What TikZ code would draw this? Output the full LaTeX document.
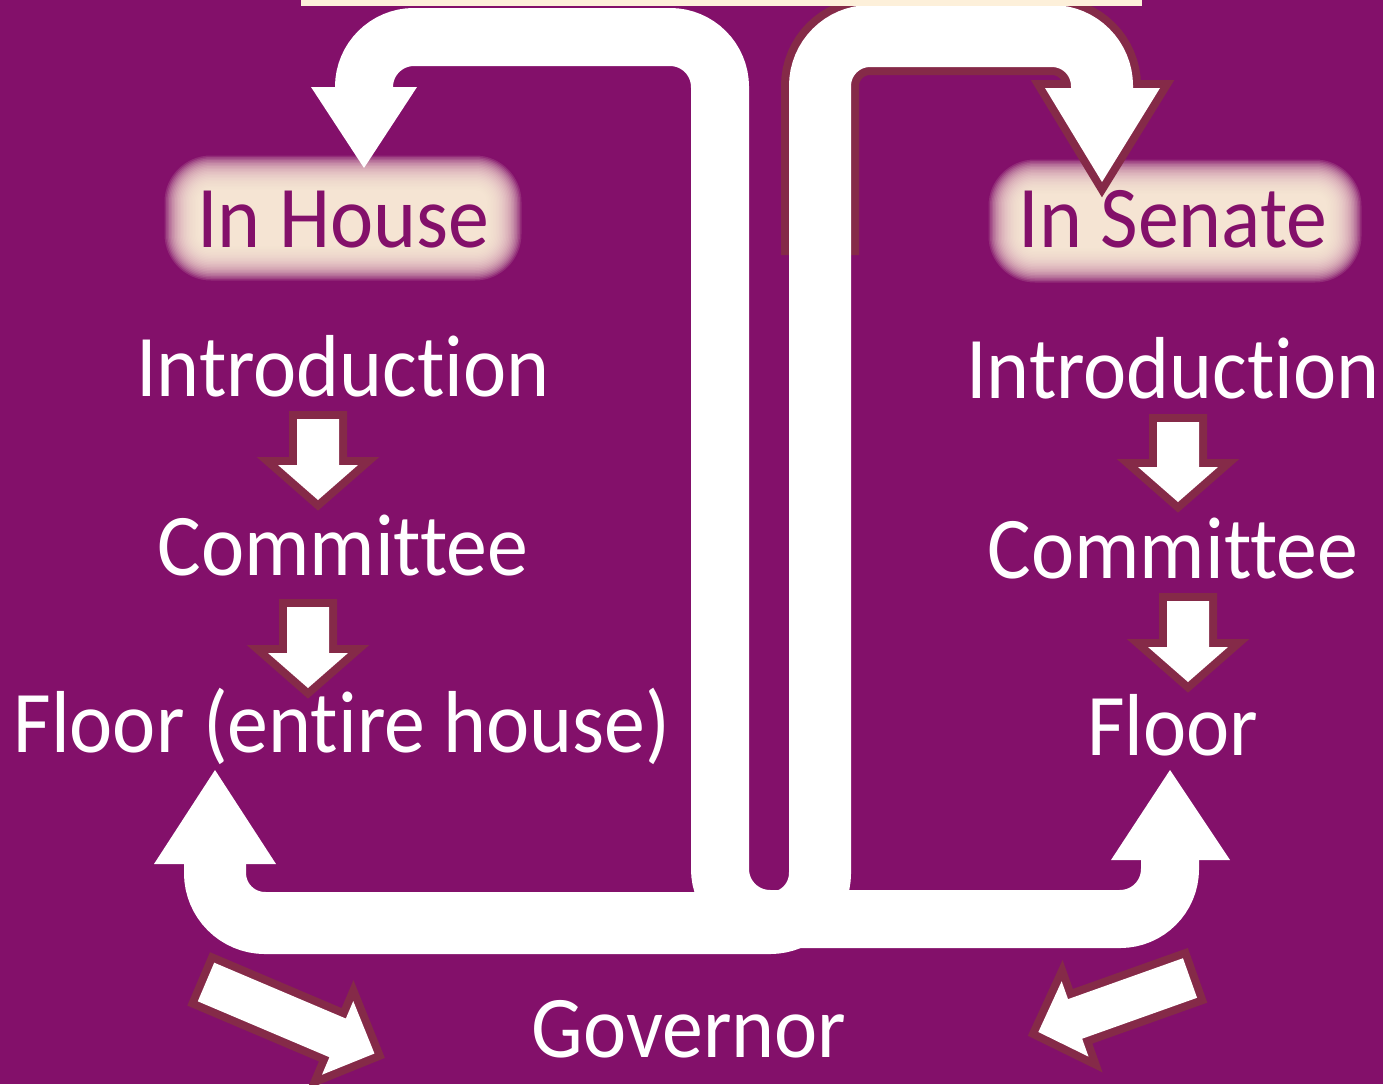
\documentclass[tikz,border=0pt]{standalone}
\usepackage{fontspec}
\setmainfont[FakeStretch=0.93, Ligatures=NoCommon]{Carlito}
\definecolor{billbg}{RGB}{131,16,106}
\definecolor{billrim}{RGB}{133,42,72}
\definecolor{billcream}{RGB}{253,240,218}
\tikzset{
  steptext/.style={text=white, font=\fontsize{88}{90}\selectfont, anchor=base, inner sep=0pt},
  chambertext/.style={text=billbg, font=\fontsize{88}{90}\selectfont, anchor=base, inner sep=0pt},
  bigflow/.style={draw=white, rounded corners=50pt},
}
% block arrow: tail (x,y), angle, shaft length, head length
\newcommand{\stagearrow}[5]{%
  \begin{scope}[shift={(#1,#2)}, rotate=#3]
    \draw[billrim, line width=16pt] (0,21) -- (#4,21) -- (#4,40) -- ({#4+#5},0) -- (#4,-40) -- (#4,-21) -- (0,-21) -- cycle;
    \fill[white] (0,21) -- (#4,21) -- (#4,40) -- ({#4+#5},0) -- (#4,-40) -- (#4,-21) -- (0,-21) -- cycle;
  \end{scope}}
% soft cream glow behind a chamber title: centre, half width, half height
\newcommand{\chamberglow}[4]{%
  \foreach \k in {1,...,24}
    \fill[billcream, opacity=0.13, rounded corners={48pt-\k*1.5pt}]
      ({#1-#3+\k*1.5},{#2-#4+\k*1.5}) rectangle ({#1+#3-\k*1.5},{#2+#4-\k*1.5});}
\begin{document}
\begin{tikzpicture}[x=1pt, y=-1pt]
    \fill[billbg] (0,0) rectangle (1383,1084);
    \useasboundingbox (0,0) rectangle (1383,1084);

    \chamberglow{343}{218}{180}{64}
    \chamberglow{1175}{221}{188}{63}

    % house -> senate floor
    \draw[bigflow, line width=58pt] (364,89) -- (364,37) -- (720,37) -- (720,919) -- (1170,919) -- (1170,858);
    \fill[white] (311,87) -- (417,87) -- (364,168) -- cycle;
    \fill[white] (1111,860) -- (1230,860) -- (1170,770) -- cycle;

    % senate -> house floor
    \draw[billrim, line width=78pt, rounded corners=50pt] (820,255) -- (820,36) -- (1102,36) -- (1102,92);
    \draw[billrim, line width=16pt] (1045,88) -- (1160,88) -- (1102,182) -- cycle;
    \draw[bigflow, line width=62pt] (1102,90) -- (1102,36) -- (820,36) -- (820,923) -- (215,923) -- (215,862);
    \fill[white] (1045,88) -- (1160,88) -- (1102,182) -- cycle;
    \fill[white] (154,864) -- (276,864) -- (215,770) -- cycle;

    \fill[billcream] (301,0) rectangle (1142,6);

    \node[chambertext] (inhouse)  at (343,247) {In House};
    \node[chambertext] (insenate) at (1173,247) {In Senate};

    \node[steptext] (hintro) at (343,396) {Introduction};
    \node[steptext] (hcomm)  at (343,575) {Committee};
    \node[steptext] (hfloor) at (342,752) {Floor (entire house)};
    \node[steptext] (sintro) at (1173,398) {Introduction};
    \node[steptext] (scomm)  at (1173,578) {Committee};
    \node[steptext] (sfloor) at (1173,755) {Floor};
    \node[steptext] (gov)    at (689,1057) {Governor};

    \stagearrow{318}{419}{-90}{46}{35}
    \stagearrow{308}{607}{-90}{46}{35}
    \stagearrow{1178}{422}{-90}{45}{35}
    \stagearrow{1188}{601}{-90}{46}{35}
    \stagearrow{206}{982}{-23}{143}{40}
    \stagearrow{1190}{978}{199.6}{122}{39}
\end{tikzpicture}
\end{document}
